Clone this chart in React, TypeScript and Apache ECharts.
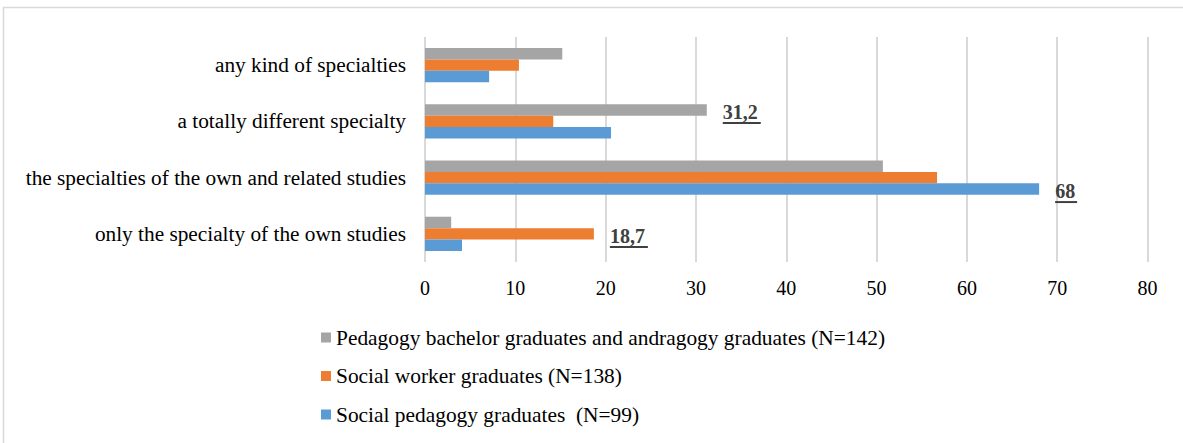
import React, { useEffect, useRef } from "react";
import * as echarts from "echarts";

const categories = [
  "only the specialty of the own studies",
  "the specialties of the own and related studies",
  "a totally different specialty",
  "any kind of specialties",
];
const pedagogyBachelor = [2.9, 50.7, 31.2, 15.2];
const socialWorker = [18.7, 56.7, 14.2, 10.4];
const socialPedagogy = [4.1, 68, 20.6, 7.1];
const seriesNames = [
  "Pedagogy bachelor graduates and andragogy graduates (N=142)",
  "Social worker graduates (N=138)",
  "Social pedagogy graduates  (N=99)",
];
// index of the highlighted (labelled) value in each series
const highlighted = [2, 0, 1];
const xTicks = [0, 80, 10];

const FONT = "'Liberation Serif', 'Times New Roman', serif";

function labelFor(value: number, underlineWidth: number) {
  const txt = String(value).replace(".", ",");
  return {
    show: true,
    position: "right",
    distance: 16,
    offset: [0, 3],
    formatter: () => `{v|${txt}}\n{u|}`,
    rich: {
      v: { fontFamily: FONT, fontSize: 20, fontWeight: "bold", color: "#404040", lineHeight: 20 },
      u: { width: underlineWidth, height: 2, backgroundColor: "#404040" },
    },
  };
}

function buildData(values: number[], hi: number, uw: number) {
  return values.map((v, i) => (i === hi ? { value: v, label: labelFor(v, uw) } : { value: v }));
}

export default function App() {
  const ref = useRef<HTMLDivElement>(null);
  useEffect(() => {
    if (!ref.current) return;
    const chart = echarts.init(ref.current, null, { renderer: "svg" });
    const colors = ["#A5A5A5", "#ED7D31", "#5B9BD5"];
    const allValues = [pedagogyBachelor, socialWorker, socialPedagogy];
    const uw = [38, 38, 22];
    chart.setOption({
      animation: false,
      textStyle: { fontFamily: FONT },
      graphic: [
        {
          type: "rect",
          shape: { x: 3.5, y: 7.5, width: 1300, height: 600 },
          style: { fill: "none", stroke: "#D9D9D9", lineWidth: 1.5 },
          silent: true,
        },
      ],
      grid: { left: 425, right: 35.5, top: 37, bottom: 181 },
      legend: {
        orient: "vertical",
        left: 316,
        top: 322,
        itemWidth: 10,
        itemHeight: 10,
        itemGap: 17.5,
        icon: "rect",
        textStyle: { fontFamily: FONT, fontSize: 21.4, color: "#000" },
        data: seriesNames,
      },
      xAxis: {
        type: "value",
        min: xTicks[0],
        max: xTicks[1],
        interval: xTicks[2],
        axisLine: { show: false },
        axisTick: { show: false },
        axisLabel: { fontFamily: FONT, fontSize: 20, color: "#000", margin: 16 },
        splitLine: { lineStyle: { color: "#D9D9D9", width: 2 } },
      },
      yAxis: {
        type: "category",
        data: categories,
        axisLine: { show: false },
        axisTick: { show: false },
        axisLabel: { fontFamily: FONT, fontSize: 21.3, color: "#000", margin: 19 },
      },
      series: seriesNames.map((name, s) => ({
        name,
        type: "bar",
        barGap: "0%",
        barCategoryGap: "39%",
        itemStyle: { color: colors[s] },
        data: buildData(allValues[s], highlighted[s], uw[s]),
      })),
    });
    return () => chart.dispose();
  }, []);
  return (
    <div
      ref={ref}
      style={{ position: "fixed", left: 0, top: 0, width: 1183, height: 443, background: "#fff" }}
    />
  );
}
